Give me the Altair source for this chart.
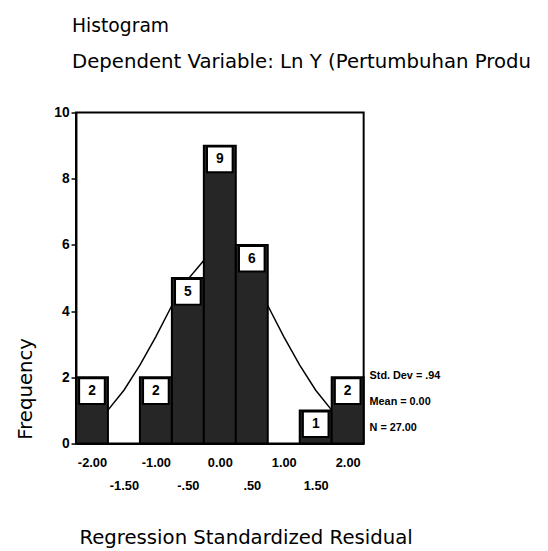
import altair as alt
import pandas as pd

# ---- data ----
bin_centers = [-2.0, -1.5, -1.0, -0.5, 0.0, 0.5, 1.0, 1.5, 2.0]
counts = [2, 0, 2, 5, 9, 6, 0, 1, 2]
bin_half = 0.25

curve_x = [-1.75, -1.5, -1.25, -1.0, -0.75, -0.5, -0.25, 0.0, 0.25, 0.5, 0.75, 1.0, 1.25, 1.5, 1.75]
curve_y = [1.01, 1.61, 2.37, 3.23, 4.17, 4.96, 5.53, 5.73, 5.53, 4.96, 4.17, 3.23, 2.37, 1.61, 1.01]

x_tick_values_row1 = [-2.0, -1.0, 0.0, 1.0, 2.0]
x_tick_labels_row1 = ["-2.00", "-1.00", "0.00", "1.00", "2.00"]
x_tick_values_row2 = [-1.5, -0.5, 0.5, 1.5]
x_tick_labels_row2 = ["-1.50", "-.50", ".50", "1.50"]
y_tick_values = [0, 2, 4, 6, 8, 10]

stats_lines = ["Std. Dev = .94", "Mean = 0.00", "N = 27.00"]

title_text = "Histogram"
subtitle_text = "Dependent Variable: Ln Y (Pertumbuhan Produ"
x_title = "Regression Standardized Residual"
y_title = "Frequency"

# ---- tables ----
bars = pd.DataFrame({"center": bin_centers, "count": counts})
bars = bars[bars["count"] > 0]
curve = pd.DataFrame({"x": curve_x, "y": curve_y})


def make_expr(values, labels):
    e = ""
    for v, lab in zip(values, labels):
        e += f"datum.value == {v} ? '{lab}' : "
    return e + "''"


xscale = alt.Scale(domain=[-2.25, 2.25], nice=False, zero=False)
yscale = alt.Scale(domain=[0, 10], nice=False)

label_style = dict(labelFont="Liberation Sans", labelFontSize=13,
                   labelFontWeight="bold", labelColor="black",
                   labelOverlap=False, labelFlush=False, labelBaseline="top",
                   ticks=False, tickSize=0, grid=False, orient="bottom")

xaxis1 = alt.Axis(
    values=x_tick_values_row1,
    labelExpr=make_expr(x_tick_values_row1, x_tick_labels_row1),
    labelPadding=13, domain=True, domainColor="black", domainWidth=2,
    title=x_title, titleFont="DejaVu Sans", titleFontSize=20,
    titleFontWeight="normal", titleColor="black", titleAnchor="start",
    titleAlign="left", titleBaseline="alphabetic", titleX=3, titleY=101,
    **label_style,
)
xaxis2 = alt.Axis(
    values=x_tick_values_row2,
    labelExpr=make_expr(x_tick_values_row2, x_tick_labels_row2),
    labelPadding=37, domain=False, title=None,
    **label_style,
)
yaxis = alt.Axis(
    values=y_tick_values, ticks=True, tickSize=5, tickColor="black", tickWidth=1.5,
    labelPadding=2, labelFont="Liberation Sans", labelFontSize=14,
    labelFontWeight="bold", labelColor="black", grid=False,
    domain=True, domainColor="black", domainWidth=2,
    title=y_title, titleFont="DejaVu Sans", titleFontSize=20,
    titleFontWeight="normal", titleColor="black", titleAngle=270,
    titleAlign="center", titleBaseline="middle", titleX=-51, titleY=280,
)

line = alt.Chart(curve).mark_line(color="black", strokeWidth=1.5).encode(
    x=alt.X("x:Q", scale=xscale, axis=xaxis1),
    y=alt.Y("y:Q", scale=yscale, axis=yaxis),
)

base = alt.Chart(bars).transform_calculate(
    x0=f"datum.center - {bin_half}", x1=f"datum.center + {bin_half}"
)

rects = base.mark_rect(fill="#262626", stroke="black", strokeWidth=2).encode(
    x=alt.X("x0:Q", scale=xscale, axis=xaxis2),
    x2="x1:Q",
    y=alt.Y("count:Q", scale=yscale),
    y2=alt.datum(0),
)

boxes = base.mark_square(size=26 * 26, fill="white", stroke="black",
                         strokeWidth=2, opacity=1, yOffset=14).encode(
    x=alt.X("center:Q", scale=xscale, axis=None),
    y=alt.Y("count:Q", scale=yscale),
)

box_text = base.mark_text(font="Liberation Sans", fontSize=14, fontWeight="bold",
                          color="black", yOffset=14, baseline="middle").encode(
    x=alt.X("center:Q", scale=xscale, axis=None),
    y=alt.Y("count:Q", scale=yscale),
    text="count:Q",
)

stats = alt.Chart(pd.DataFrame({"a": [0]})).mark_text(
    text=stats_lines, font="Liberation Sans", fontSize=11, fontWeight="bold",
    color="black", align="left", baseline="top", lineHeight=26,
).encode(x=alt.value(298), y=alt.value(262))

chart = alt.layer(line, rects, boxes, box_text, stats).resolve_axis(
    x="independent"
).properties(
    width=292, height=336,
    background="white",
    title=alt.Title(
        title_text, subtitle=subtitle_text, anchor="start", frame="group",
        dx=-4, offset=34, font="DejaVu Sans", fontSize=19, fontWeight="normal",
        color="black", subtitleFont="DejaVu Sans", subtitleFontSize=20,
        subtitleColor="black", subtitlePadding=17,
    ),
    autosize=alt.AutoSizeParams(type="none"),
    padding={"left": 69, "top": 102, "right": 179, "bottom": 105},
).configure_view(stroke="black", strokeWidth=2)

chart.save("out.html", embed_options={"renderer": "svg", "actions": False})
